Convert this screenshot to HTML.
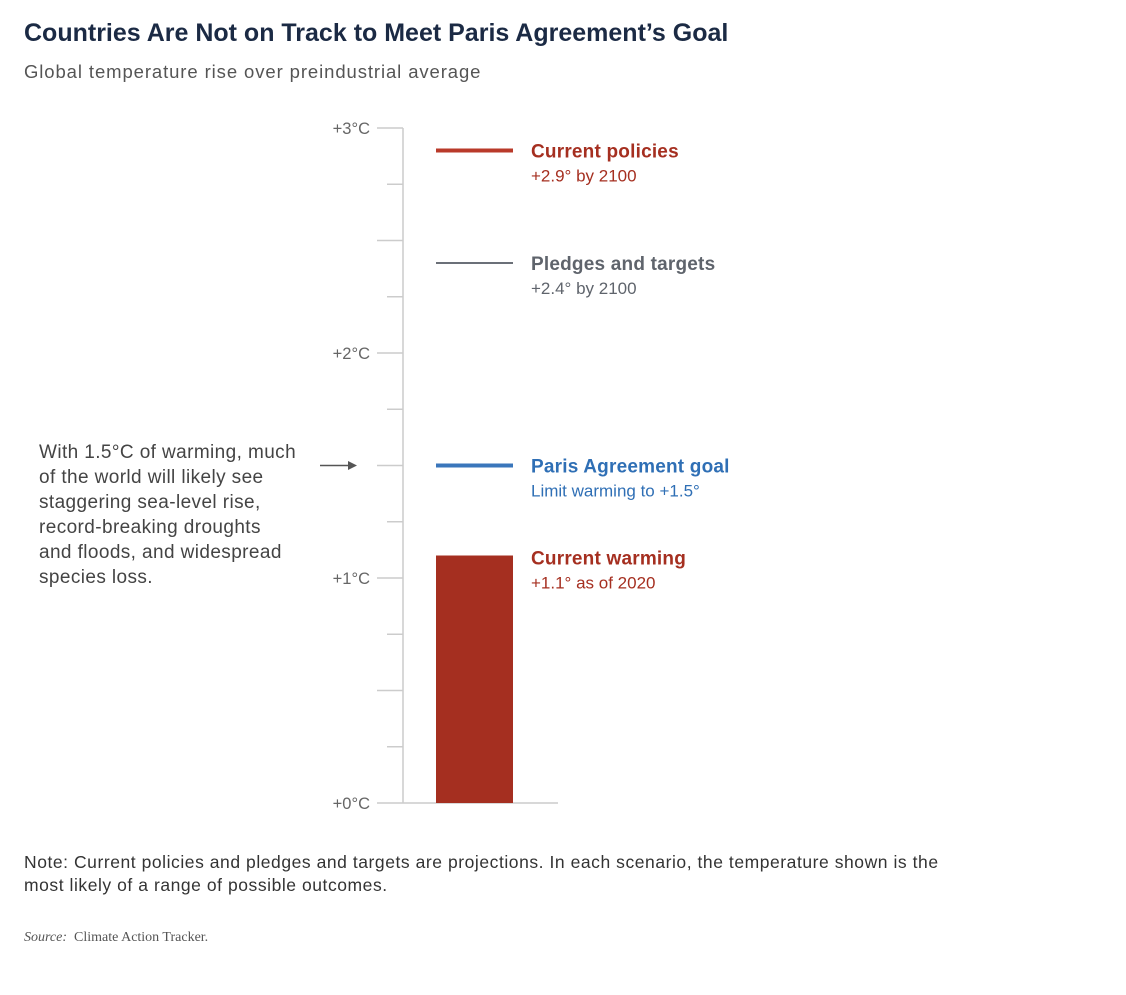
<!DOCTYPE html>
<html><head><meta charset="utf-8"><style>
body{margin:0;background:#fff;width:1126px;height:995px;overflow:hidden;font-family:"Liberation Sans",sans-serif}
.t{position:absolute;white-space:nowrap}
</style></head><body>
<div class="t" style="left:24px;top:19px;font-size:25px;font-weight:bold;color:#1b2a44;letter-spacing:0px">Countries Are Not on Track to Meet Paris Agreement’s Goal</div>
<div class="t" style="left:24px;top:61px;font-size:18.5px;color:#555;letter-spacing:0.9px">Global temperature rise over preindustrial average</div>
<div class="t" style="left:39px;top:440px;font-size:19px;line-height:25px;color:#444;letter-spacing:0.4px">With 1.5°C of warming, much<br>of the world will likely see<br>staggering sea-level rise,<br>record-breaking droughts<br>and floods, and widespread<br>species loss.</div>
<svg id="chart" width="1126" height="995" style="position:absolute;left:0;top:0"></svg>
<div class="t" style="left:24px;top:851px;font-size:17.5px;line-height:23px;color:#333;letter-spacing:0.55px">Note: Current policies and pledges and targets are projections. In each scenario, the temperature shown is the<br>most likely of a range of possible outcomes.</div>
<div class="t" style="left:24px;top:930px;font-size:14px;color:#555;font-family:'Liberation Serif',serif"><i>Source:</i>&nbsp; Climate Action Tracker.</div>
<script>
const tickValues=[0,0.25,0.5,0.75,1,1.25,1.5,1.75,2,2.25,2.5,2.75,3];
const tickLabels=["+0°C","","","","+1°C","","","","+2°C","","","","+3°C"];
const barValue=1.1;
const lineNames=["Current policies","Pledges and targets","Paris Agreement goal"];
const lineValues=[2.9,2.4,1.5];
const lineSubs=["+2.9° by 2100","+2.4° by 2100","Limit warming to +1.5°"];
const lineColors=["#b93a2a","#6b7078","#3a76bb"];
const lineWidths=[4,2,4];
const barLabel="Current warming", barSub="+1.1° as of 2020";
const svg=document.getElementById('chart');const NS='http://www.w3.org/2000/svg';
const y=v=>803-v*225;
function mk(t,a,txt){const e=document.createElementNS(NS,t);for(const k in a)e.setAttribute(k,a[k]);if(txt!=null)e.textContent=txt;svg.appendChild(e);return e;}
let e=mk('line',{x1:403,y1:y(3),x2:403,y2:y(0),stroke:'#ccc','stroke-width':1.5});

tickValues.forEach((v,i)=>{const q=Math.round(v*4);const x1=(q%2===0)?377:387;
 const l=mk('line',{x1:x1,y1:y(v),x2:v===0?558:403,y2:y(v),stroke:'#ccc','stroke-width':1.5});
 
 if(tickLabels[i]){const t=mk('text',{x:370,y:y(v)+6,'text-anchor':'end','font-size':16.5,fill:'#666'},tickLabels[i]);
 }});
const b=mk('rect',{x:436,y:y(barValue),width:77,height:y(0)-y(barValue),fill:'#a52f20'});

let t1=mk('text',{x:531,y:y(barValue)+9,'font-size':19,'font-weight':'bold',fill:'#a52f20','letter-spacing':0.2},barLabel);

let t2=mk('text',{x:531,y:y(barValue)+33,'font-size':17,fill:'#a52f20'},barSub);

lineValues.forEach((v,i)=>{const l=mk('line',{x1:436,x2:513,y1:y(v),y2:y(v),stroke:lineColors[i],'stroke-width':lineWidths[i]});
 
 const c=i===1?'#5f646c':(i===0?'#a52f20':'#2f6fb5');
 const a=mk('text',{x:531,y:y(v)+7,'font-size':19,'font-weight':'bold',fill:c,'letter-spacing':0.2},lineNames[i]);
 
 const s=mk('text',{x:531,y:y(v)+31,'font-size':17,fill:c},lineSubs[i]);
 });
const ar=mk('line',{x1:320,x2:350,y1:y(1.5),y2:y(1.5),stroke:'#555','stroke-width':1.5});

const ah=mk('polygon',{points:`357,${y(1.5)} 348,${y(1.5)-4.5} 348,${y(1.5)+4.5}`,fill:'#555'});

</script>
</body></html>
